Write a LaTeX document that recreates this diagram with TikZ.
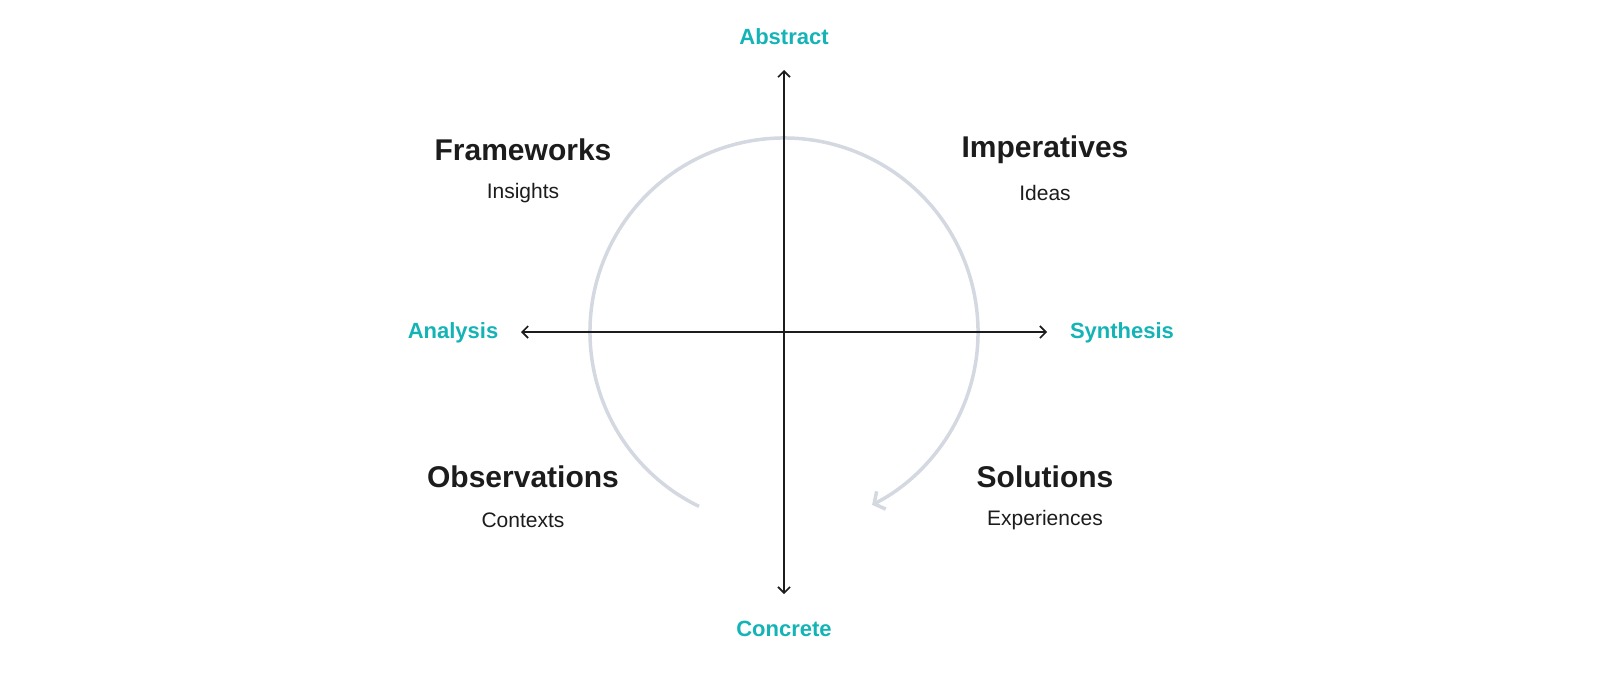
\documentclass[tikz,border=0pt]{standalone}
\usepackage{fontspec}
\setmainfont{Liberation Sans}
\usetikzlibrary{arrows.meta}
\definecolor{teal1}{HTML}{14B3B5}
\definecolor{arcg}{HTML}{D3D8E1}
\definecolor{ink}{HTML}{1C1C1C}
\begin{document}
\begin{tikzpicture}[x=1pt,y=-1pt,
  axis/.style={draw=ink,line width=1.6pt,{Straight Barb[length=6pt,width=12pt]}-{Straight Barb[length=6pt,width=12pt]}},
  dir/.style={text=teal1,font=\bfseries\fontsize{22}{24}\selectfont},
  head/.style={text=ink,font=\bfseries\fontsize{30}{34}\selectfont},
  sub/.style={text=ink,font=\fontsize{21}{24}\selectfont}]
\useasboundingbox (0,0) rectangle (1600,678);
\coordinate (c) at (784,332);
\draw[arcg,line width=3.5pt,-{Straight Barb[length=8pt,width=20pt]}] (c) ++(116:194) arc[start angle=116,end angle=423,radius=194];
\coordinate (t) at (784,70); \coordinate (b) at (784,594);
\coordinate (l) at (521,332); \coordinate (r) at (1047,332);
\draw[axis] (t) -- (b);
\draw[axis] (l) -- (r);
\node[dir] (abs) at (784,37) {Abstract};
\node[dir] (con) at (784,629) {Concrete};
\node[dir] (ana) at (453,333) {Analysis};
\node[dir] (syn) at (1122,333) {Synthesis};
\node[head] (fw) at (523,150) {Frameworks};
\node[sub] (ins) at (523,193) {Insights};
\node[head] (im) at (1045,150) {Imperatives};
\node[sub] (ide) at (1045,193) {Ideas};
\node[head] (ob) at (523,477) {Observations};
\node[sub] (ctx) at (523,520) {Contexts};
\node[head] (so) at (1045,477) {Solutions};
\node[sub] (exp) at (1045,520) {Experiences};
\end{tikzpicture}
\end{document}
